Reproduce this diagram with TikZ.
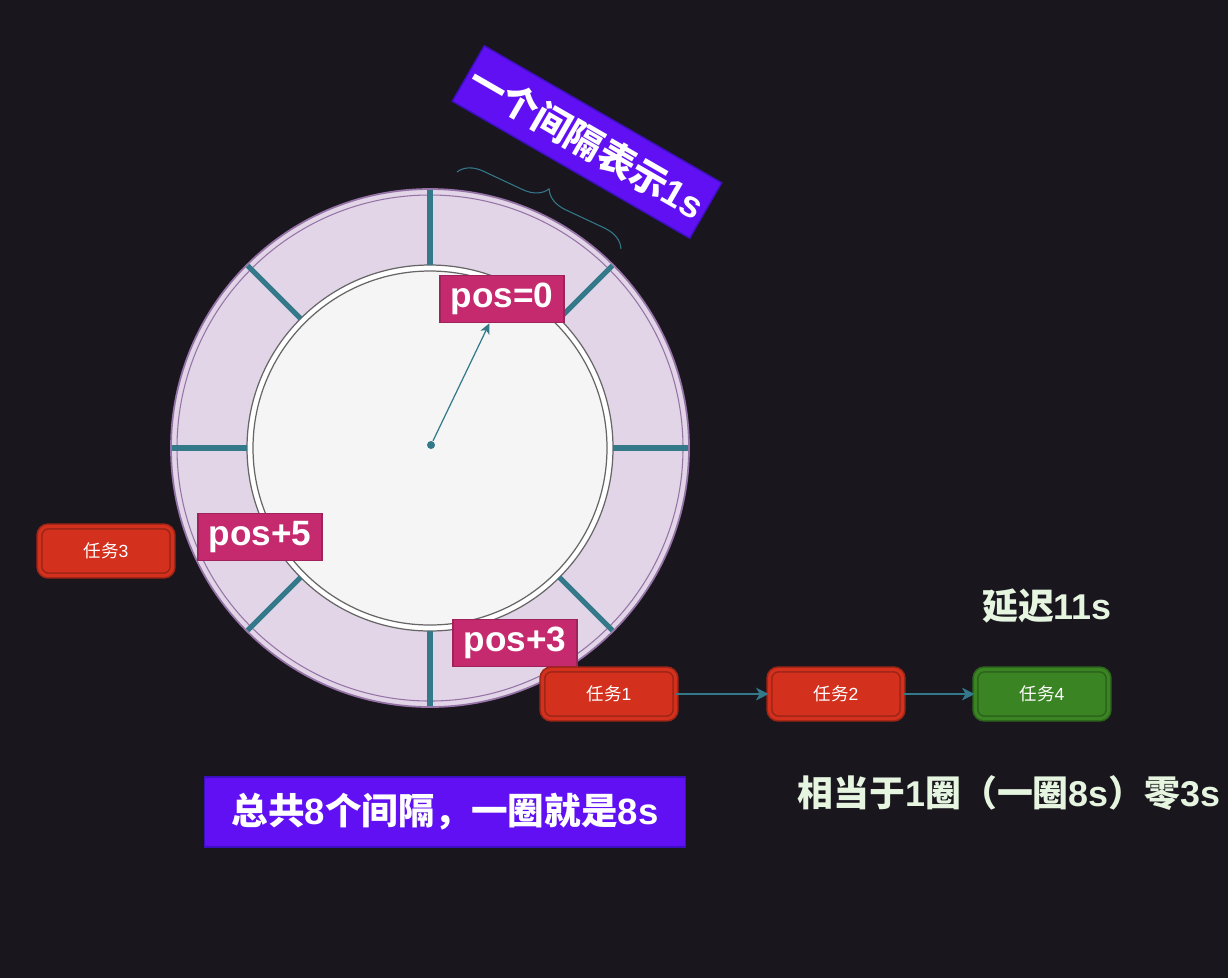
\documentclass[tikz,border=0pt]{standalone}
\usepackage{fontspec}
\setmainfont{Liberation Sans}
\newfontfamily\cjk{Noto Sans CJK SC}
\usetikzlibrary{calc}
\usetikzlibrary{arrows.meta}
\usetikzlibrary{decorations.pathreplacing}
\newcommand{\hanzi}[1]{{\cjk #1}}
\definecolor{bgdark}{HTML}{19161E}
\definecolor{ringfill}{HTML}{E1D5E7}
\definecolor{ringline}{HTML}{9673A6}
\definecolor{slotline}{HTML}{666666}
\definecolor{tickteal}{HTML}{33798A}
\definecolor{posfill}{HTML}{C5296E}
\definecolor{posline}{HTML}{A0225A}
\definecolor{taskred}{HTML}{D3311E}
\definecolor{taskgreen}{HTML}{3A8424}
\definecolor{notepurple}{HTML}{6010F2}
\definecolor{noteline}{HTML}{3D10BF}
\definecolor{paletext}{HTML}{E5F5E0}
\tikzset{ring/.style={fill=ringfill,draw=ringline,line width=#1},ring/.default=0.5pt}
\tikzset{slot/.style={fill=#1,draw=slotline,line width=0.35pt},slot/.default=gray!8}
\tikzset{tick/.style={color=#1,line width=1.45pt},tick/.default=tickteal}
\tikzset{posbox/.style={fill=posfill,draw=posline,line width=0.4pt,text=white,inner sep=0pt,
  minimum width=1.24cm,minimum height=0.47cm,font=\fontsize{10}{12}\selectfont\bfseries}}
\tikzset{task/.style={fill=#1,draw=#1!75!black,double=#1,double distance=0.9pt,line width=0.45pt,
  rounded corners=2.5pt,text=white,inner sep=0pt,minimum width=1.33cm,minimum height=0.49cm,
  font=\fontsize{5}{6}\selectfont},task/.default=taskred}
\tikzset{note/.style={fill=notepurple,draw=noteline,line width=0.4pt,text=white,inner sep=0pt,
  font=\fontsize{#1}{12}\selectfont\bfseries},note/.default=10}
\tikzset{bigtext/.style={text=#1,inner sep=0pt,font=\fontsize{10.2}{12}\selectfont\bfseries},bigtext/.default=paletext}
\tikzset{flow/.style={draw=tickteal,line width=0.45pt,-{Stealth[length=3.6pt,width=3.6pt,inset=1pt]}}}

\begin{document}
\begin{tikzpicture}[x=0.01cm,y=-0.01cm]
	\fill [bgdark] (0,0) rectangle (1228,978);
	\useasboundingbox (0,0) rectangle (1228,978);
	\coordinate (O) at (430,448);

	% the wheel
	\draw [ring] (O) circle (259);
	\draw [ringline,line width=0.3pt] (O) circle (253);
	\draw [slot=white] (O) circle (183);
	\draw [slot] (O) circle (177);
	\foreach \a in {0,45,...,315}
		\draw [tick] ($(O)+(\a:183)$) -- ($(O)+(\a:258)$);

	% slots
	\node [posbox] (pos0) at (502,299) {pos=0};
	\node [posbox] (pos5) at (260,537) {pos+5};
	\node [posbox] (pos3) at (515,643) {pos+3};
	\node [circle,fill=tickteal,inner sep=0pt,minimum size=0.08cm] (hub) at (431,445) {};
	\draw [tickteal,line width=0.35pt,-{Stealth[length=3pt,width=2.8pt,inset=0.8pt]}]
		(hub) -- ($(pos0.south west)!0.4!(pos0.south east)$);

	% tasks
	\node [task] (t3) at (106,551) {\hanzi{任务}3};
	\node [task] (t1) at (609,694) {\hanzi{任务}1};
	\node [task] (t2) at (836,694) {\hanzi{任务}2};
	\node [task=taskgreen] (t4) at (1042,694) {\hanzi{任务}4};
	\draw [flow] (t1) -- (t2);
	\draw [flow] (t2) -- (t4);

	% notes
	\node [note=10.6,rotate=-30,minimum width=2.74cm,minimum height=0.64cm] (unit) at (587,142)
		{\hanzi{一个间隔表示}1s};
	\draw [tickteal,line width=0.3pt,decorate,decoration={brace,amplitude=6.8pt}]
		(457,172) -- (621,249);
	\node [note=10.4,minimum width=4.81cm,minimum height=0.7cm] (total) at (445,812)
		{\hanzi{总共}8\hanzi{个间隔，一圈就是}8s};
	\node [bigtext] (delay) at (1047,606) {\hanzi{延迟}11s};
	\node [bigtext] (equiv) at (1009,793) {\hanzi{相当于}1\hanzi{圈（一圈}8s\hanzi{）零}3s};
\end{tikzpicture}
\end{document}
